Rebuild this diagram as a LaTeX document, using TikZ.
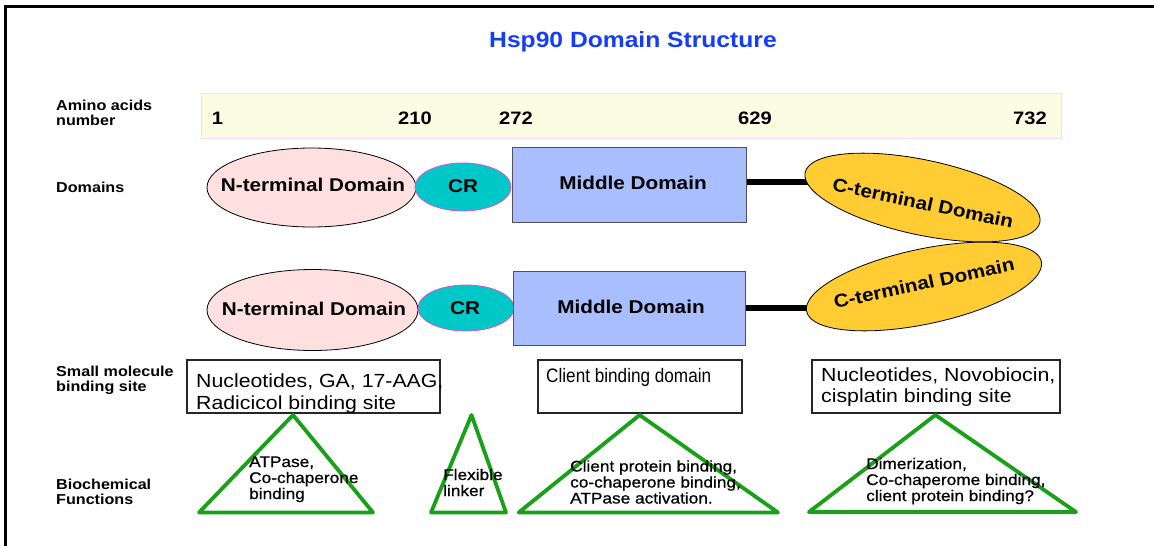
\documentclass[tikz,border=0pt]{standalone}
\usepackage{fontspec}
\setmainfont{Liberation Sans}
\newfontfamily\hf[FakeStretch=1.12]{Liberation Sans}
\newfontfamily\hfm[FakeStretch=1.12,FakeBold=0.8]{Liberation Sans}
\newfontfamily\hfc[FakeStretch=0.88]{Liberation Sans}
\usetikzlibrary{shapes.geometric}
\pgfdeclarelayer{bg}
\pgfsetlayers{bg,main}
\definecolor{titleblue}{RGB}{20,60,250}
\definecolor{stripfill}{RGB}{252,252,228}
\definecolor{stripdraw}{RGB}{255,215,240}
\definecolor{nfill}{RGB}{255,224,224}
\definecolor{crfill}{RGB}{0,200,200}
\definecolor{crdraw}{RGB}{220,80,220}
\definecolor{mfill}{RGB}{168,190,255}
\definecolor{mdraw}{RGB}{80,80,90}
\definecolor{cfill}{RGB}{255,204,51}
\definecolor{trigreen}{RGB}{25,160,25}
\tikzset{
  lbl/.style={font={\hf\fontsize{14.4}{14.8}\selectfont\bfseries}, anchor=base west, inner sep=0pt, align=left},
  num/.style={font={\hf\fontsize{18}{20}\selectfont\bfseries}, anchor=base, inner sep=0pt},
  dom/.style={font={\hf\fontsize{18.5}{20}\selectfont\bfseries}, inner sep=0pt},
  nell/.style={ellipse, draw=black, line width=0.8pt, fill=nfill, inner sep=0pt},
  crell/.style={ellipse, draw=crdraw, line width=0.8pt, fill=crfill, inner sep=0pt},
  mrect/.style={rectangle, draw=mdraw, line width=1pt, fill=mfill, inner sep=0pt},
  cell/.style={ellipse, draw=black, line width=0.8pt, fill=cfill, inner sep=0pt},
  linker/.style={line width=6pt, black},
  strip/.style={rectangle, draw=stripdraw, line width=0.8pt, fill=stripfill, inner sep=0pt},
  sbox/.style={rectangle, draw=black!85, line width=1.1pt, fill=white, inner sep=0pt},
  boxtxt/.style={font={\hf\fontsize{19}{22}\selectfont}, anchor=base west, inner sep=0pt, align=left},
  boxtxtb/.style={font={\hf\fontsize{19}{21}\selectfont}, anchor=base west, inner sep=0pt, align=left},
  boxtxtc/.style={font={\hfc\fontsize{19.5}{21}\selectfont}, anchor=base west, inner sep=0pt, align=left},
  tri/.style={draw=trigreen, line width=3.8pt, line join=round},
  ttxt/.style={font={\hfm\fontsize{15.4}{16}\selectfont}, anchor=base west, inner sep=0pt, align=left},
  frame/.style={line width=3.5pt, black}
}
\begin{document}
\begin{tikzpicture}[x=1pt,y=-1pt]
\useasboundingbox (0,0) rectangle (1154,546);
% frame
\draw[frame] (4,6.5) -- (1154,6.5);
\draw[frame] (5.5,5) -- (5.5,546);
% title
\node[font={\hf\fontsize{22}{24}\selectfont\bfseries}, text=titleblue, anchor=base, inner sep=0pt] (title) at (633,47) {Hsp90 Domain Structure};
% labels (anchor = baseline of last line)
\node[lbl] (l1) at (56,125.5) {Amino acids\\number};
\node[lbl] (l2) at (56,192) {Domains};
\node[lbl] (l3) at (56,391.5) {Small molecule\\binding site};
\node[lbl] (l4) at (56,504) {Biochemical\\Functions};
% amino acid strip
\node[strip, minimum width=860, minimum height=45] (aa) at (631,115.5) {};
\node[num] (a1) at (217.5,124) {1};
\node[num] (a210) at (415,124) {210};
\node[num] (a272) at (516,124) {272};
\node[num] (a629) at (755,124) {629};
\node[num] (a732) at (1030,124) {732};
% row 1
\node[nell, minimum width=209, minimum height=79] (n1) at (311.5,187.5) {};
\node[dom] (n1t) at (313,185) {N-terminal Domain};
\node[crell, minimum width=96, minimum height=48] (cr1) at (463,187) {};
\node[dom] (cr1t) at (463,186) {CR};
\node[mrect, minimum width=234, minimum height=75] (m1) at (629,184.5) {};
\node[dom] (m1t) at (633,183) {Middle Domain};
\node[cell, minimum width=240, minimum height=75, rotate=-12] (c1) at (922.5,197.5) {};
\node[dom, rotate=-12] (c1t) at (923,203) {C-terminal Domain};
% row 2
\node[nell, minimum width=211, minimum height=81] (n2) at (312.5,310) {};
\node[dom] (n2t) at (314,309) {N-terminal Domain};
\node[crell, minimum width=96, minimum height=46] (cr2) at (466,308) {};
\node[dom] (cr2t) at (465,308) {CR};
\node[mrect, minimum width=232, minimum height=74] (m2) at (629,308) {};
\node[dom] (m2t) at (631,307) {Middle Domain};
\node[cell, minimum width=240, minimum height=75, rotate=12] (c2) at (924,286.5) {};
\node[dom, rotate=12] (c2t) at (924,283) {C-terminal Domain};
% linkers
\begin{pgfonlayer}{bg}
\draw[linker] ([yshift=2.5pt]m1.east) -- ([yshift=2.5pt]m1.east -| c1.center);
\draw[linker] (m2.east) -- (m2.east -| c2.center);
\end{pgfonlayer}
% binding site boxes
\node[sbox, minimum width=253, minimum height=53] (b1) at (313.5,386.5) {};
\node[sbox, minimum width=204, minimum height=53] (b2) at (640,386.5) {};
\node[sbox, minimum width=248, minimum height=53] (b3) at (936,386.5) {};
\node[boxtxt] (b1t) at (196,409) {Nucleotides, GA, 17-AAG,\\Radicicol binding site};
\node[boxtxtc] (b2t) at (546,382) {Client binding domain};
\node[boxtxtb] (b3t) at (821,402) {Nucleotides, Novobiocin,\\cisplatin binding site};
% triangles
\draw[tri] (293,415) -- (373,512.5) -- (199,512.5) -- cycle;
\draw[tri] (471.5,415) -- (506,512.5) -- (431,512.5) -- cycle;
\draw[tri] (639.6,415) -- (778,512.5) -- (518.7,512.5) -- cycle;
\draw[tri] (935.4,415) -- (1076,512) -- (809,512) -- cycle;
% functions (anchor = baseline of last line)
\node[ttxt] (f1) at (249,499) {ATPase,\\Co-chaperone\\binding};
\node[ttxt] (f2) at (443,496) {Flexible\\linker};
\node[ttxt] (f3) at (570,503.5) {Client protein binding,\\co-chaperone binding,\\ATPase activation.};
\node[ttxt] (f4) at (866,501) {Dimerization,\\Co-chaperome binding,\\client protein binding?};
\end{tikzpicture}
\end{document}
